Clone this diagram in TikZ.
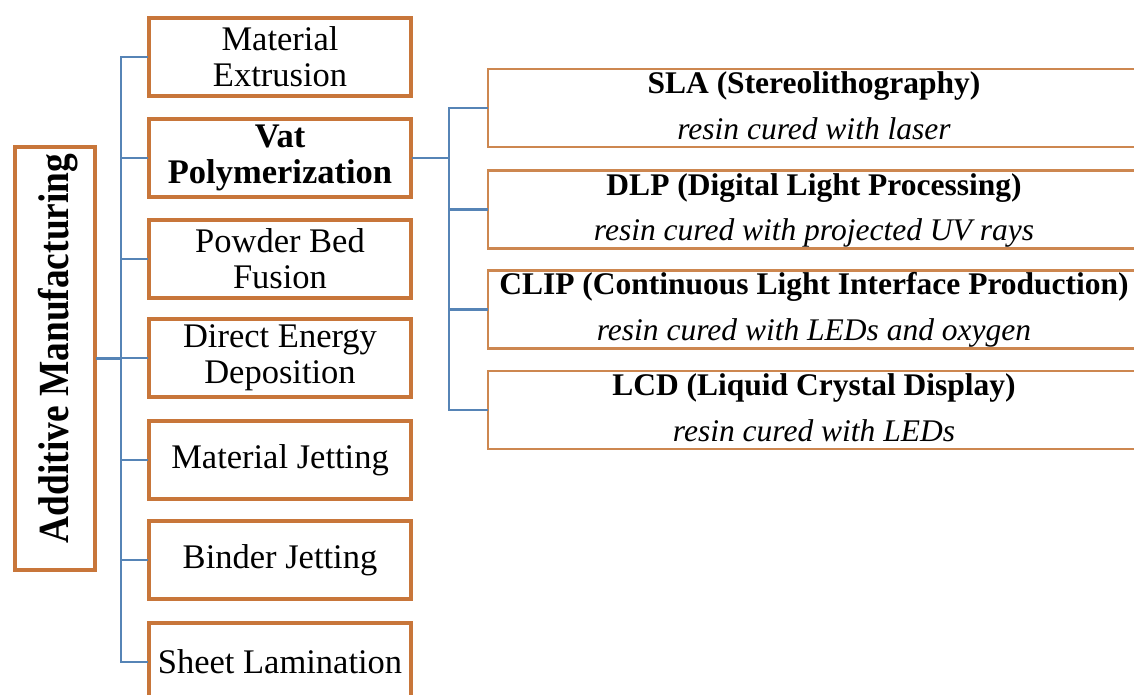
\documentclass[tikz,border=0pt]{standalone}
\usepackage{fontspec}
\setmainfont{Liberation Serif}
\usepackage{graphicx}
\definecolor{boxorange}{RGB}{200,118,58}
\definecolor{lightorange}{RGB}{205,135,80}
\definecolor{treeblue}{RGB}{86,132,182}
\tikzset{
  mainbox/.style={draw=boxorange, line width=4pt, minimum width=80pt, minimum height=423pt, inner sep=0pt},
  maintext/.style={rotate=90, inner sep=0pt, font=\bfseries\fontsize{43}{45}\selectfont},
  catbox/.style={draw=boxorange, line width=4pt, minimum width=262pt, minimum height=78pt, inner sep=0pt, align=center, font=\fontsize{34.5}{36}\selectfont},
  techbox/.style={draw=lightorange, line width=2.5pt, minimum width=652pt, minimum height=78pt, inner sep=0pt},
  techtitle/.style={anchor=base, inner sep=0pt, font=\bfseries\fontsize{31.5}{34}\selectfont},
  techsub/.style={anchor=base, inner sep=0pt, font=\itshape\fontsize{31.5}{34}\selectfont},
  tree/.style={draw=treeblue, line width=2.2pt, line cap=rect},
}
\begin{document}
\begin{tikzpicture}[x=1pt, y=-1pt]
\useasboundingbox (0,0) rectangle (1134,695);
\fill[white] (0,0) rectangle (1134,695);
\clip (0,0) rectangle (1134,695);

% root
\node[mainbox] (am) at (55,358.5) {};
\node[maintext] (amt) at (58,348.5) {\scalebox{0.87}[1]{Additive Manufacturing}};

% categories
\node[catbox] (me) at (280,57) {Material\\Extrusion};
\node[catbox, font=\bfseries\fontsize{34.5}{36}\selectfont] (vp) at (280,158) {Vat\\Polymerization};
\node[catbox] (pb) at (280,259) {Powder Bed\\Fusion};
\node[catbox] (de) at (280,358) {Direct Energy\\Deposition};
\node[catbox] (mj) at (280,460) {Material Jetting};
\node[catbox] (bj) at (280,560) {Binder Jetting};
\node[catbox] (sl) at (280,662) {Sheet Lamination};

% technologies
\node[techbox] (sla) at (814,108) {};
\node[techtitle] (slat) at ([yshift=-26pt]sla.north) {SLA (Stereolithography)};
\node[techsub] (slas) at ([yshift=-71.5pt]sla.north) {resin cured with laser};

\node[techbox] (dlp) at (814,209.5) {};
\node[techtitle] (dlpt) at ([yshift=-26pt]dlp.north) {DLP (Digital Light Processing)};
\node[techsub] (dlps) at ([yshift=-71.5pt]dlp.north) {resin cured with projected UV rays};

\node[techbox] (clip) at (814,309.5) {};
\node[techtitle] (clipt) at ([yshift=-25pt]clip.north) {CLIP (Continuous Light Interface Production)};
\node[techsub] (clips) at ([yshift=-71.5pt]clip.north) {resin cured with LEDs and oxygen};

\node[techbox] (lcd) at (814,410) {};
\node[techtitle] (lcdt) at ([yshift=-26pt]lcd.north) {LCD (Liquid Crystal Display)};
\node[techsub] (lcds) at ([yshift=-71.5pt]lcd.north) {resin cured with LEDs};

% tree connectors
\coordinate (trunkL) at (121,358);
\coordinate (trunkR) at (449,157);
\draw[tree] (am.east) -- (am.east -| trunkL);
\draw[tree] (trunkL |- me.west) -- (trunkL |- sl.west);
\foreach \n in {me,vp,pb,de,mj,bj,sl} \draw[tree] (trunkL |- \n.west) -- (\n.west);
\draw[tree] (vp.east) -- (vp.east -| trunkR);
\draw[tree] (trunkR |- sla.west) -- (trunkR |- lcd.west);
\foreach \n in {sla,dlp,clip,lcd} \draw[tree] (trunkR |- \n.west) -- (\n.west);
\end{tikzpicture}
\end{document}
